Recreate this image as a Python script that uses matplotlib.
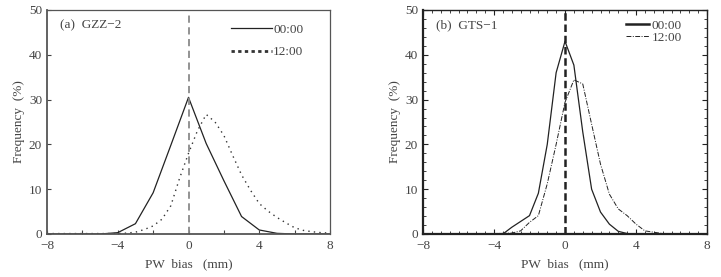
import matplotlib
matplotlib.use("Agg")
import matplotlib.pyplot as plt
from matplotlib.ticker import MultipleLocator

plt.rcParams['font.family'] = ['Liberation Serif', 'DejaVu Serif']
plt.rcParams['font.size'] = 9.5

# Panel (a) GZZ-2
a_x00 = [-8, -7, -6, -5, -4, -3, -2, -1, 0, 1, 2, 3, 4, 5, 6, 7, 8]
a_y00 = [0, 0, 0, 0, 0.3, 2.3, 9.2, 19.8, 30.5, 20.2, 11.9, 3.9, 0.9, 0.15, 0, 0, 0]
a_x12 = [-8, -7, -6, -5, -4, -3.5, -3, -2.5, -2, -1.5, -1, -0.5, 0, 0.5, 1, 1.5, 2,
         2.5, 3, 3.5, 4, 4.5, 5, 5.5, 6, 6.5, 7, 7.5, 8]
a_y12 = [0.1, 0.1, 0.1, 0.1, 0.1, 0.2, 0.4, 1.0, 1.8, 3.3, 6.3, 12.5, 18, 23, 26.7,
         25, 22, 17.5, 13.2, 9.8, 6.8, 5.1, 3.7, 2.5, 1.4, 0.8, 0.5, 0.3, 0.2]

# Panel (b) GTS-1
b_x00 = [-8, -4, -3.5, -3, -2, -1.5, -1, -0.5, 0, 0.5, 1, 1.5, 2, 2.5, 3, 3.5, 4, 8]
b_y00 = [0, 0, 0, 1.5, 4.1, 9.1, 20, 36, 43, 37.7, 22.8, 10, 4.9, 2.2, 0.6, 0.1, 0, 0]
b_x12 = [-8, -4, -3, -2.5, -2, -1.5, -1, -0.5, 0, 0.5, 1, 1.5, 2, 2.5, 3, 3.5, 4,
         4.5, 5, 5.5, 6, 8]
b_y12 = [0, 0.1, 0.2, 0.7, 2.6, 4.1, 11.2, 20, 29.4, 34.4, 33.5, 24.5, 15.6, 8.9,
         5.6, 4.1, 2.2, 0.7, 0.4, 0.1, 0, 0]

labels = ['00:00', '12:00']
xticks = [-8, -4, 0, 4, 8]
xticklabels = ['−8', '−4', '0', '4', '8']
yticks = [0, 10, 20, 30, 40, 50]
txt = '#444444'

fig = plt.figure(figsize=(7.21, 2.77), dpi=100)
ax1 = fig.add_axes([47 / 721, 43 / 277, 283 / 721, 224 / 277])
ax2 = fig.add_axes([423 / 721, 43 / 277, 284 / 721, 224 / 277])

# Panel a
ax1.plot(a_x00, a_y00, color='#222222', lw=0.9, ls='-', label=labels[0])
ax1.plot(a_x12, a_y12, color='#333333', lw=1.0, ls=(0, (1, 3)), label=labels[1])
ax1.axvline(0, color='#8a8a8a', lw=1.3, ls=(0, (4, 2.5)))
ax1.set_xlim(-8, 8)
ax1.set_ylim(0, 50)
ax1.set_xticks(xticks)
ax1.set_yticks(yticks)
ax1.xaxis.set_minor_locator(MultipleLocator(2))
ax1.tick_params(direction='in', which='both', colors='#444444', labelcolor=txt,
                length=3, width=0.8, top=False, right=False)
ax1.tick_params(axis='x', pad=4)
for s in ax1.spines.values():
    s.set_color('#555555')
    s.set_linewidth(0.9)
ax1.spines['left'].set_linewidth(1.3)
ax1.spines['bottom'].set_linewidth(1.3)
ax1.set_xticklabels(xticklabels)
ax1.set_xlabel('PW  bias   (mm)', color=txt, labelpad=5)
ax1.set_ylabel('Frequency  (%)', color=txt, labelpad=3)
ax1.text(0.045, 0.92, '(a)  GZZ−2', transform=ax1.transAxes, color=txt)
leg1 = ax1.legend(loc='upper right', bbox_to_anchor=(0.915, 0.95), frameon=False,
                  handlelength=3.1, handletextpad=0.05, labelspacing=0.75,
                  borderaxespad=0.0, borderpad=0.2)
leg1.get_lines()[1].set_linewidth(2.0)
leg1.get_lines()[1].set_linestyle((0, (1.2, 1.2)))
for t in leg1.get_texts():
    t.set_color(txt)

# Panel b
ax2.plot(b_x00, b_y00, color='#222222', lw=0.9, ls='-', label=labels[0])
ax2.plot(b_x12, b_y12, color='#222222', lw=0.7, ls=(0, (5, 1.5, 1, 1.5)), label=labels[1])
ax2.axvline(0, color='#222222', lw=1.8, ls=(0, (3, 1.5)))
ax2.set_xlim(-8, 8)
ax2.set_ylim(0, 50)
ax2.set_xticks(xticks)
ax2.set_yticks(yticks)
ax2.xaxis.set_minor_locator(MultipleLocator(0.5))
ax2.yaxis.set_minor_locator(MultipleLocator(2))
ax2.tick_params(direction='in', which='major', length=3.5, width=0.8,
                top=True, right=True, colors='#222222', labelcolor=txt)
ax2.tick_params(direction='in', which='minor', length=2, width=0.6,
                top=True, right=True, colors='#222222')
ax2.tick_params(axis='x', pad=4)
for s in ax2.spines.values():
    s.set_color('#222222')
    s.set_linewidth(1.0)
ax2.spines['left'].set_linewidth(1.6)
ax2.spines['bottom'].set_linewidth(1.6)
ax2.set_xticklabels(xticklabels)
ax2.set_xlabel('PW  bias   (mm)', color=txt, labelpad=5)
ax2.set_ylabel('Frequency  (%)', color=txt, labelpad=3)
ax2.text(0.045, 0.92, '(b)  GTS−1', transform=ax2.transAxes, color=txt)
leg2 = ax2.legend(loc='upper right', bbox_to_anchor=(0.92, 0.97), frameon=False,
                  handlelength=1.7, handletextpad=0.2, labelspacing=0.0,
                  borderaxespad=0.0, borderpad=0.2)
leg2.get_lines()[0].set_linewidth(1.8)
for t in leg2.get_texts():
    t.set_color(txt)

fig.savefig('out.png', dpi=100)
